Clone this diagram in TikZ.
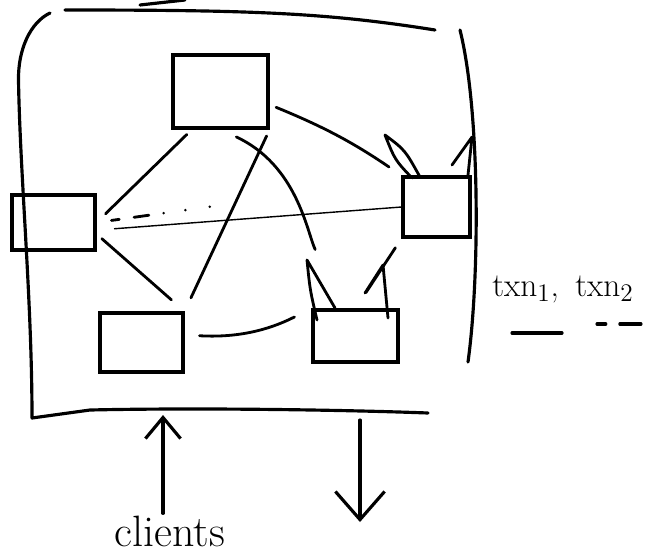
\documentclass[tikz,border=0pt]{standalone}
\usepackage{tikz}
\usetikzlibrary{positioning, arrows.meta, calc}

\begin{document}
\begin{tikzpicture}[
    replica/.style={draw, rectangle, line width=1.8pt, inner sep=0pt},
    link/.style={line width=1.6pt, line cap=round, shorten <=4pt, shorten >=4pt},
    pen/.style={line width=1.8pt, line cap=round, line join=round},
    ear/.style={line width=1.6pt, line cap=round, line join=round},
    barb/.style={-{Straight Barb[length=12pt, width=20pt]}}
  ]
      \useasboundingbox (0,0) rectangle (13,-11.14);

      \node[replica, minimum width=1.9cm, minimum height=1.46cm] (top) at (4.41, -1.83) {};
      \node[replica, minimum width=1.66cm, minimum height=1.1cm] (left) at (1.07, -4.45) {};
      \node[replica, minimum width=1.34cm, minimum height=1.2cm] (right) at (8.73, -4.14) {};
      \node[replica, minimum width=1.7cm, minimum height=1.04cm] (botr) at (7.11, -6.72) {};
      \node[replica, minimum width=1.66cm, minimum height=1.18cm] (botl) at (2.83, -6.85) {};

      \draw[pen] (1.3, -0.2) .. controls (5, -0.2) and (6.5, -0.25) .. (8.7, -0.6);
      \draw[pen] (2.8, -0.1) -- (3.7, 0);
      \draw[pen] (1.0, -0.26) .. controls (0.6, -0.45) and (0.36, -1.0) .. (0.37, -1.6)
                 .. controls (0.4, -3.5) and (0.64, -6) .. (0.64, -8.36)
                 -- (1.8, -8.2) .. controls (4, -8.15) and (7, -8.2) .. (8.56, -8.26);
      \draw[pen] (9.2, -0.6) .. controls (9.6, -2.2) and (9.6, -5.5) .. (9.36, -7.24);

      \draw[ear] (8.24, -3.56) .. controls (7.9, -3.2) .. (7.7, -2.7) .. controls (8.1, -3.0) .. (8.4, -3.54);
      \draw[ear] (9.04, -3.3) -- (9.44, -2.74) -- (9.36, -3.5);
      \draw[ear] (6.34, -6.4) .. controls (6.2, -5.8) .. (6.14, -5.2) -- (6.7, -6.16);
      \draw[ear] (7.3, -5.86) -- (7.66, -5.3) -- (7.76, -6.36);

      \coordinate (msg) at (4.3, -4.12);

      \draw[link, shorten <=0.25cm] (left.east) -- (top.233);
      \draw[link, shorten >=0.3cm] (top.south east) -- (botl.north east);
      \draw[link, shorten <=0.35cm, shorten >=1.3cm] (top.south) to[out=-25, in=115] (botr.115);
      \draw[link, shorten >=0.3cm] (top.-15) to[bend left=6] (right.north west);
      \draw[line width=0.8pt, shorten <=0.35cm] (left.-10) -- (right.west);
      \draw[link, shorten <=0.3cm, shorten >=0pt, dash pattern=on 4.5pt off 8.5pt on 8.5pt off 8.5pt on 0pt off 12.5pt on 0pt off 14pt on 0pt off 20pt] (left.east) -- (msg);
      \draw[link, shorten >=0.35cm] (left.-15) -- (botl.north east);
      \draw[link, shorten <=0.22cm, shorten >=0.38cm] (right.south west) -- (botr.north);
      \draw[link, shorten <=0.3cm, shorten >=0.38cm] (botl.10) to[bend right=15] (botr.north west);

      \node[anchor=base, inner sep=1pt, font=\fontsize{25}{29}\selectfont] (clients) at (3.4, -10.92) {clients};
      \coordinate (inpt) at (3.26, -8.3);
      \coordinate (outa) at (7.2, -8.4);
      \coordinate (outb) at (7.2, -10.44);
      \draw[pen, barb] (inpt |- clients.north) -- (inpt);
      \draw[pen, -{Straight Barb[length=16pt, width=28pt]}] (outa) -- (outb);

      \node[anchor=base west, inner sep=0pt, font=\fontsize{19}{22}\selectfont] (txna) at (9.84, -5.92) {txn$_1$,};
      \node[anchor=base west, inner sep=0pt, font=\fontsize{19}{22}\selectfont] (txnb) at (11.5, -5.92) {txn$_2$};
      \draw[pen] ([xshift=0.4cm, yshift=-0.74cm]txna.base west) -- ++(1cm, 0);
      \draw[pen, dash pattern=on 5pt off 8pt on 12pt] ([xshift=0.44cm, yshift=-0.56cm]txnb.base west) -- ++(0.9cm, 0);
    \end{tikzpicture}
\end{document}
